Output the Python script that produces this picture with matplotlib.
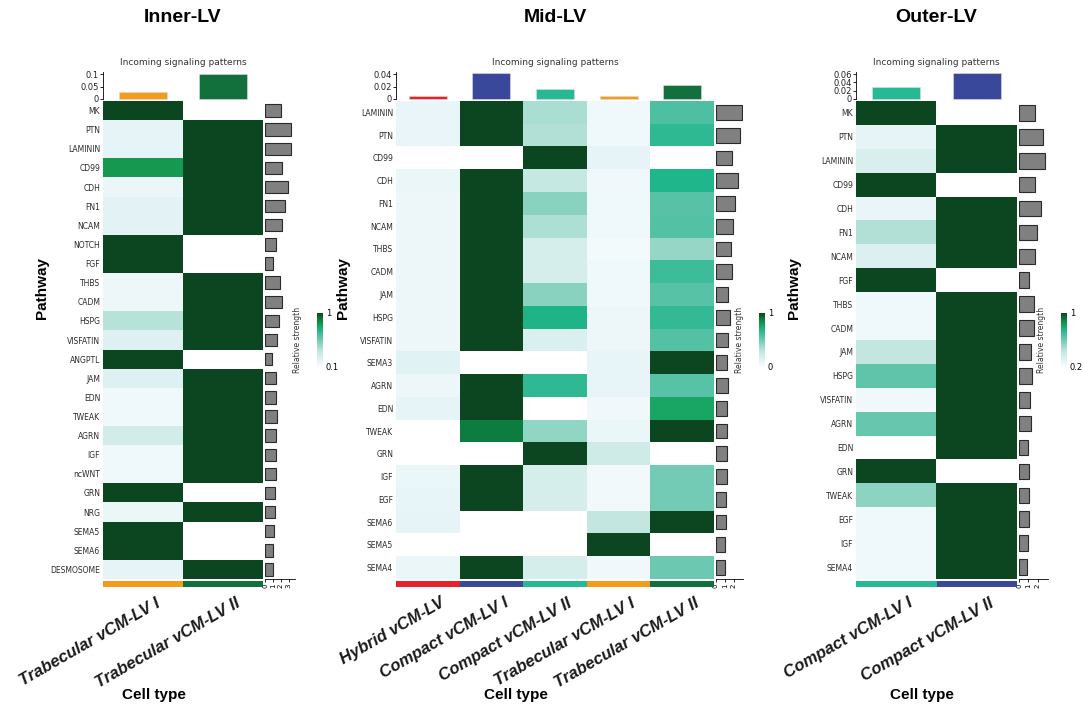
import numpy as np
import matplotlib
matplotlib.use("Agg")
import matplotlib.pyplot as plt
from matplotlib.colors import LinearSegmentedColormap, Normalize
from matplotlib.cm import ScalarMappable
from matplotlib.transforms import ScaledTranslation

# ---- data ----
inner_rows = ["MK", "PTN", "LAMININ", "CD99", "CDH", "FN1", "NCAM", "NOTCH", "FGF", "THBS",
              "CADM", "HSPG", "VISFATIN", "ANGPTL", "JAM", "EDN", "TWEAK", "AGRN", "IGF",
              "ncWNT", "GRN", "NRG", "SEMA5", "SEMA6", "DESMOSOME"]
inner_cells = ["Trabecular vCM-LV I", "Trabecular vCM-LV II"]
inner_heat = [[1, 0], [0.1, 1], [0.1, 1], [0.8, 1], [0.07, 1], [0.12, 1], [0.12, 1], [1, 0],
              [1, 0], [0.06, 1], [0.06, 1], [0.32, 1], [0.15, 1], [1, 0], [0.15, 1], [0.05, 1],
              [0.05, 1], [0.22, 1], [0.05, 1], [0.05, 1], [1, 0], [0.07, 1], [1, 0], [1, 0],
              [0.1, 1]]
inner_incoming = [0.028, 0.1]
inner_totals = [2.0, 3.25, 3.25, 2.1, 2.9, 2.5, 2.2, 1.35, 1.05, 1.85, 2.15, 1.75, 1.5, 0.9,
                1.35, 1.4, 1.5, 1.35, 1.4, 1.35, 1.25, 1.25, 1.2, 1.05, 1.05]
inner_colors = ["#F29B1D", "#11703B"]
inner_bar_ticks = [0, 0.05, 0.1]
inner_bar_labels = ["0", "0.05", "0.1"]
inner_total_ticks = [0, 1, 2, 3]
inner_cb = (0.1, "0.1")

mid_rows = ["LAMININ", "PTN", "CD99", "CDH", "FN1", "NCAM", "THBS", "CADM", "JAM", "HSPG",
            "VISFATIN", "SEMA3", "AGRN", "EDN", "TWEAK", "GRN", "IGF", "EGF", "SEMA6", "SEMA5",
            "SEMA4"]
mid_cells = ["Hybrid vCM-LV", "Compact vCM-LV I", "Compact vCM-LV II", "Trabecular vCM-LV I",
             "Trabecular vCM-LV II"]
mid_heat = [[0.08, 1, 0.35, 0.05, 0.58],
            [0.08, 1, 0.33, 0.05, 0.65],
            [0, 0, 1, 0.1, 0],
            [0.07, 1, 0.27, 0.04, 0.68],
            [0.06, 1, 0.44, 0.05, 0.56],
            [0.06, 1, 0.34, 0.05, 0.57],
            [0.06, 1, 0.2, 0.02, 0.41],
            [0.06, 1, 0.2, 0.05, 0.62],
            [0.06, 1, 0.44, 0.05, 0.56],
            [0.06, 1, 0.69, 0.06, 0.64],
            [0.06, 1, 0.17, 0.06, 0.57],
            [0.13, 0, 0, 0.09, 1],
            [0.06, 1, 0.65, 0.09, 0.56],
            [0.1, 1, 0, 0.04, 0.75],
            [0, 0.88, 0.42, 0.07, 1],
            [0, 0, 1, 0.24, 0],
            [0.07, 1, 0.2, 0.03, 0.49],
            [0.09, 1, 0.2, 0.03, 0.49],
            [0.1, 0, 0, 0.28, 1],
            [0, 0, 0, 1, 0],
            [0.07, 1, 0.2, 0.04, 0.51]]
mid_incoming = [0.005, 0.041, 0.0155, 0.005, 0.022]
mid_totals = [2.85, 2.7, 1.75, 2.45, 2.1, 1.85, 1.67, 1.78, 1.33, 1.55, 1.33, 1.2, 1.33, 1.22,
              1.22, 1.22, 1.22, 1.1, 1.1, 1.05, 0.95]
mid_colors = ["#E6222A", "#3A489C", "#27B994", "#F29B1D", "#11703B"]
mid_bar_ticks = [0, 0.02, 0.04]
mid_bar_labels = ["0", "0.02", "0.04"]
mid_total_ticks = [0, 1, 2]
mid_cb = (0.0, "0")

outer_rows = ["MK", "PTN", "LAMININ", "CD99", "CDH", "FN1", "NCAM", "FGF", "THBS", "CADM",
              "JAM", "HSPG", "VISFATIN", "AGRN", "EDN", "GRN", "TWEAK", "EGF", "IGF", "SEMA4"]
outer_cells = ["Compact vCM-LV I", "Compact vCM-LV II"]
outer_heat = [[1, 0], [0.1, 1], [0.18, 1], [1, 0], [0.08, 1], [0.33, 1], [0.16, 1], [1, 0],
              [0.05, 1], [0.05, 1], [0.28, 1], [0.54, 1], [0.04, 1], [0.52, 1], [0, 1],
              [1, 0], [0.43, 1], [0.05, 1], [0.05, 1], [0.05, 1]]
outer_incoming = [0.028, 0.063]
outer_totals = [1.75, 2.55, 2.75, 1.7, 2.3, 1.97, 1.72, 1.07, 1.65, 1.65, 1.33, 1.43, 1.22,
                1.3, 1.0, 1.1, 1.1, 1.04, 0.97, 0.86]
outer_colors = ["#27B994", "#3A489C"]
outer_bar_ticks = [0, 0.02, 0.04, 0.06]
outer_bar_labels = ["0", "0.02", "0.04", "0.06"]
outer_total_ticks = [0, 1, 2]
outer_cb = (0.2, "0.2")

cmap_pos = [0.0, 0.1, 0.25, 0.4, 0.55, 0.68, 0.78, 0.88, 1.0]
cmap_hex = ["#F7FCFD", "#E6F4F8", "#CDEBE6", "#9AD8C9", "#5CC3A8", "#21B78D", "#17A055",
            "#0E7F40", "#0B4621"]

# ---- layout (pixels) ----
W, H = 1083, 710
fig = plt.figure(figsize=(W / 100, H / 100), dpi=100)
cmap = LinearSegmentedColormap.from_list("rs", list(zip(cmap_pos, cmap_hex)))
cmap.set_bad("white")
BIG = ["Liberation Sans", "DejaVu Sans"]


def box(x0, y0, x1, y1):
    return [x0 / W, 1 - y1 / H, (x1 - x0) / W, (y1 - y0) / H]


def panel(title, rows, cells, heat, incoming, totals, colors, bticks, blabels, tticks, cb, g):
    n, m = len(rows), len(cells)
    data = np.ma.masked_equal(np.array(heat, float), 0)

    ax = fig.add_axes(box(g["hx0"], 101, g["hx1"], 579))
    ax.imshow(data, cmap=cmap, vmin=0, vmax=1, aspect="auto", interpolation="nearest")
    ax.set_xticks([])
    ax.set_yticks(range(n))
    ax.set_yticklabels(rows, fontsize=5.5, color="#2b2b2b")
    ax.tick_params(axis="y", length=0, pad=2)
    for s in ax.spines.values():
        s.set_visible(False)

    # incoming bars on top
    axt = fig.add_axes(box(g["hx0"], 72, g["hx1"], 99))
    axt.bar(range(m), incoming, width=0.6, color=colors, edgecolor="#dddddd", linewidth=0.4,
            clip_on=False)
    axt.set_xlim(-0.5, m - 0.5)
    axt.set_ylim(0, bticks[-1] * 27 / 25)
    axt.set_xticks([])
    axt.set_yticks(bticks)
    axt.set_yticklabels(blabels, fontsize=6, color="#222222")
    axt.tick_params(axis="y", length=2, width=0.6, pad=1)
    for k in ["top", "right", "bottom"]:
        axt.spines[k].set_visible(False)
    axt.spines["left"].set_linewidth(0.6)
    axt.set_title("Incoming signaling patterns", fontsize=6.5, color="#333333", pad=5)

    # row totals on the right
    axr = fig.add_axes(box(g["hx1"] + 2, 101, g["hx1"] + 2 + g["rw"], 579))
    axr.barh(range(n), totals, height=0.65, color="#808080", edgecolor="#2a2a2a", linewidth=0.8)
    axr.set_ylim(n - 0.5, -0.5)
    axr.set_xlim(0, g["rmax"])
    axr.set_yticks([])
    axr.set_xticks(tticks)
    axr.set_xticklabels([str(t) for t in tticks], rotation=90, fontsize=5)
    axr.tick_params(axis="x", length=2, width=0.6, pad=1)
    for k in ["top", "right", "left"]:
        axr.spines[k].set_visible(False)
    axr.spines["bottom"].set_linewidth(0.6)

    # cell-type colour strip + labels
    axs = fig.add_axes(box(g["hx0"], 581, g["hx1"], 587))
    axs.bar(range(m), [1] * m, width=1, color=colors)
    axs.set_xlim(-0.5, m - 0.5)
    axs.set_ylim(0, 1)
    axs.set_yticks([])
    for s in axs.spines.values():
        s.set_visible(False)
    axs.set_xticks(range(m))
    axs.set_xticklabels(cells, rotation=30, ha="right", rotation_mode="anchor", fontsize=12,
                        fontweight="bold", fontstyle="italic", family=BIG, color="#1a1a1a")
    axs.tick_params(axis="x", length=0, pad=6)
    for lab in axs.get_xticklabels():
        lab.set_transform(lab.get_transform() + ScaledTranslation(0.12, 0, fig.dpi_scale_trans))

    # colour legend
    cax = fig.add_axes(box(g["cbx"], 313, g["cbx"] + 6, 367))
    cbar = fig.colorbar(ScalarMappable(Normalize(cb[0], 1), cmap), cax=cax)
    cbar.outline.set_visible(False)
    cbar.set_ticks([cb[0], 1])
    cbar.set_ticklabels([cb[1], "1"])
    cax.tick_params(length=0, labelsize=6, pad=2)
    fig.text((g["cbx"] - 20) / W, 1 - 340 / H, "Relative strength", rotation=90, fontsize=5.5,
             ha="center", va="center", color="#333333")

    fig.text(g["title_x"] / W, 1 - 18 / H, title, fontsize=14, fontweight="bold", family=BIG,
             ha="center", va="center")
    fig.text(g["path_x"] / W, 1 - 288 / H, "Pathway", rotation=90, fontsize=11,
             fontweight="bold", family=BIG, ha="center", va="center")
    fig.text(g["cell_x"] / W, 1 - 695 / H, "Cell type", fontsize=11, fontweight="bold",
             family=BIG, ha="center", va="center")


inner_geo = dict(hx0=103, hx1=263, rw=30, rmax=3.8, cbx=317, title_x=183, path_x=42, cell_x=154)
mid_geo = dict(hx0=396, hx1=714, rw=27, rmax=3.0, cbx=759, title_x=555, path_x=343, cell_x=516)
outer_geo = dict(hx0=856, hx1=1017, rw=29, rmax=3.1, cbx=1061, title_x=936, path_x=794,
                 cell_x=922)

panel("Inner-LV", inner_rows, inner_cells, inner_heat, inner_incoming, inner_totals,
      inner_colors, inner_bar_ticks, inner_bar_labels, inner_total_ticks, inner_cb, inner_geo)
panel("Mid-LV", mid_rows, mid_cells, mid_heat, mid_incoming, mid_totals, mid_colors,
      mid_bar_ticks, mid_bar_labels, mid_total_ticks, mid_cb, mid_geo)
panel("Outer-LV", outer_rows, outer_cells, outer_heat, outer_incoming, outer_totals,
      outer_colors, outer_bar_ticks, outer_bar_labels, outer_total_ticks, outer_cb, outer_geo)

fig.savefig("out.png", dpi=100)
